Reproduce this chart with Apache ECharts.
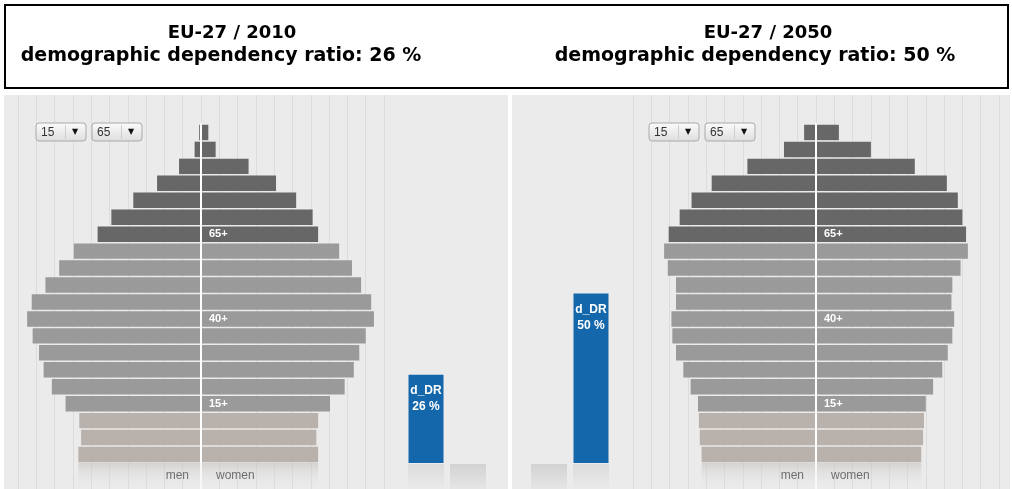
<!DOCTYPE html>
<html><head><meta charset="utf-8">
<script src="https://cdn.jsdelivr.net/npm/echarts@6/dist/echarts.min.js"></script>
<style>html,body{margin:0;padding:0;background:#fff}#c{width:1012px;height:489px}</style>
</head><body><div id="c"></div><script>
// ---- data ----
const region = 'EU-27';
const years = ['2010', '2050'];
const ageGroups = ['0-4','5-9','10-14','15-19','20-24','25-29','30-34','35-39','40-44','45-49',
  '50-54','55-59','60-64','65-69','70-74','75-79','80-84','85-89','90-94','95+'];
// population, millions
const men2010   = [13.4,13.1,13.3,14.8,16.3,17.2,17.7,18.4,19.0,18.5,17.0,15.5,13.9,11.3,9.8,7.4,4.8,2.4,0.7,0.2];
const women2010 = [12.8,12.6,12.8,14.1,15.7,16.7,17.3,18.0,18.9,18.6,17.5,16.5,15.1,12.8,12.2,10.4,8.2,5.2,1.6,0.8];
const men2050   = [12.5,12.7,12.8,12.9,13.7,14.5,15.3,15.7,15.8,15.3,15.3,16.2,16.6,16.1,14.9,13.6,11.4,7.5,3.5,1.3];
const women2050 = [11.5,11.7,11.8,12.0,12.8,13.8,14.4,14.9,15.1,14.8,14.9,15.8,16.6,16.4,16.0,15.5,14.3,10.8,6.0,2.5];
const dependencyRatio = [26, 50];
const ratioName = 'd_DR';
const markerLabels = {3:'15+', 8:'40+', 13:'65+'};
const selectorValues = ['15', '65'];
const sexLabels = ['men', 'women'];

// ---- layout / style ----
const menData = [men2010, men2050];
const womenData = [women2010, women2050];
const panels = [
  {bgX:4, bgW:504, pyrLeft:18, ratioLeft:405, ratioOrder:[ratioName, ' '], titleX1:227, titleX2:216, ddX:36},
  {bgX:512, bgW:498, pyrLeft:633, ratioLeft:528, ratioOrder:[' ', ratioName], titleX1:763, titleX2:750, ddX:649}
];
const PYR_W = 366, TOP = 124, H = 339;
function ageColor(i){ return i < 3 ? '#b8b1ac' : (i < 13 ? '#9a9a9a' : '#676767'); }
const fadeGrad = (a, b) => new echarts.graphic.LinearGradient(0,0,0,1,[{offset:0,color:a},{offset:1,color:b}]);

const grid = [], xAxis = [], yAxis = [], series = [], title = [], graphic = [];
const hidden = {show:false};

panels.forEach((p, k) => {
  const b = grid.length;
  // 0: background stripes
  grid.push({left:p.pyrLeft, top:95, width:PYR_W, height:394});
  xAxis.push({gridIndex:b, type:'value', min:-20, max:20, interval:2, axisLine:hidden, axisTick:hidden, axisLabel:hidden,
    splitLine:{show:true, lineStyle:{color:'#dcdcdc', width:1}}});
  yAxis.push({gridIndex:b, type:'value', min:0, max:1, show:false});
  // 1: pyramid
  grid.push({left:p.pyrLeft, top:TOP, width:PYR_W, height:H});
  xAxis.push({gridIndex:b+1, type:'value', min:-20, max:20, show:false});
  yAxis.push({gridIndex:b+1, type:'category', data:ageGroups, z:10,
    axisLine:{show:true, onZero:true, lineStyle:{color:'#ffffff', width:2}}, axisTick:hidden, axisLabel:hidden, splitLine:hidden});
  // 2: pyramid reflection
  grid.push({left:p.pyrLeft, top:TOP+H, width:PYR_W, height:26});
  xAxis.push({gridIndex:b+2, type:'value', min:-20, max:20, show:false});
  yAxis.push({gridIndex:b+2, type:'category', data:[ageGroups[0]], z:10,
    axisLine:{show:true, onZero:true, lineStyle:{color:'#f8f8f8', width:2}}, axisTick:hidden, axisLabel:hidden, splitLine:hidden});
  // 3: ratio bar
  grid.push({left:p.ratioLeft, top:TOP, width:84, height:H});
  xAxis.push({gridIndex:b+3, type:'category', data:p.ratioOrder, show:false});
  yAxis.push({gridIndex:b+3, type:'value', min:0, max:100, show:false});
  // 4: ratio reflection
  grid.push({left:p.ratioLeft, top:TOP+H+1, width:84, height:25});
  xAxis.push({gridIndex:b+4, type:'category', data:p.ratioOrder, show:false});
  yAxis.push({gridIndex:b+4, type:'value', inverse:true, min:0, max:8, show:false});

  const men = menData[k], women = womenData[k];
  series.push({type:'bar', name:sexLabels[0], xAxisIndex:b+1, yAxisIndex:b+1, barGap:'-100%', barCategoryGap:'9%',
    data: men.map((v,i)=>({value:-v, itemStyle:{color:ageColor(i)}})), silent:true});
  series.push({type:'bar', name:sexLabels[1], xAxisIndex:b+1, yAxisIndex:b+1, barGap:'-100%', barCategoryGap:'9%',
    data: women.map((v,i)=>({value:v, itemStyle:{color:ageColor(i)}})), silent:true,
    label:{show:true, position:'insideLeft', distance:8, color:'#ffffff', fontWeight:'bold', fontSize:11,
      fontFamily:'Liberation Sans, Arial, sans-serif', formatter: q => markerLabels[q.dataIndex] || ''}});
  const reflColor = fadeGrad('rgba(196,192,189,0.55)', 'rgba(235,235,235,0.05)');
  series.push({type:'bar', xAxisIndex:b+2, yAxisIndex:b+2, barGap:'-100%', barCategoryGap:'0%',
    data:[-men[0]], itemStyle:{color:reflColor}, silent:true});
  series.push({type:'bar', xAxisIndex:b+2, yAxisIndex:b+2, barGap:'-100%', barCategoryGap:'0%',
    data:[women[0]], itemStyle:{color:reflColor}, silent:true});

  const ratioData = p.ratioOrder.map(c => c === ratioName ? dependencyRatio[k] : '-');
  series.push({type:'bar', xAxisIndex:b+3, yAxisIndex:b+3, barWidth:35, data:ratioData,
    itemStyle:{color:'#1467ab'}, silent:true,
    label:{show:true, position:'insideTop', distance:8, color:'#ffffff', fontWeight:'bold', fontSize:12, lineHeight:16,
      fontFamily:'Liberation Sans, Arial, sans-serif', formatter: q => q.name + '\n' + q.value + ' %'}});
  series.push({type:'bar', xAxisIndex:b+4, yAxisIndex:b+4, barWidth:36, data:ratioData, silent:true,
    showBackground:true, backgroundStyle:{color: fadeGrad('#d2d2d2', '#e6e6e6')},
    itemStyle:{color: fadeGrad('#dcdcdc', '#eaeaea')}});

  // titles
  const tStyle = {fontFamily:'DejaVu Sans, sans-serif', fontWeight:'bold', fontSize:18, color:'#000'};
  title.push({text: region + ' / ' + years[k], left:p.titleX1, top:19, textAlign:'center', textStyle:tStyle});
  title.push({text: 'demographic dependency ratio: ' + dependencyRatio[k] + ' %', left:p.titleX2, top:42, textAlign:'center',
    textStyle:Object.assign({}, tStyle, {fontSize:19})});

  // panel background
  graphic.push({type:'rect', z:-100, shape:{x:p.bgX, y:95, width:p.bgW, height:394}, style:{fill:'#ebebeb'}});
  // sex labels
  const cx = p.pyrLeft + PYR_W/2;
  graphic.push({type:'text', z:50, x:cx-12, y:476, style:{text:sexLabels[0], align:'right', verticalAlign:'middle',
    fontSize:12, fontFamily:'Liberation Sans, Arial, sans-serif', fill:'#6e6e6e'}});
  graphic.push({type:'text', z:50, x:cx+15, y:476, style:{text:sexLabels[1], align:'left', verticalAlign:'middle',
    fontSize:12, fontFamily:'Liberation Sans, Arial, sans-serif', fill:'#6e6e6e'}});
  // dropdown selectors
  selectorValues.forEach((v, j) => {
    const x = p.ddX + j*56;
    graphic.push({type:'rect', z:50, shape:{x:x, y:123, width:50, height:18, r:3},
      style:{fill: fadeGrad('#fbfbfb', '#dedede'), stroke:'#a9a9a9', lineWidth:1}});
    graphic.push({type:'line', z:51, shape:{x1:x+29.5, y1:125, x2:x+29.5, y2:139}, style:{stroke:'#cfcfcf', lineWidth:1}});
    graphic.push({type:'text', z:52, x:x+5, y:132.5, style:{text:v, verticalAlign:'middle', fontSize:12,
      fontFamily:'Liberation Sans, Arial, sans-serif', fill:'#333'}});
    graphic.push({type:'text', z:52, x:x+39, y:132, style:{text:'\u25BC', align:'center', verticalAlign:'middle', fontSize:8,
      fontFamily:'DejaVu Sans, sans-serif', fill:'#111'}});
  });
});
// header box
graphic.push({type:'rect', z:-100, shape:{x:5, y:5, width:1003, height:83}, style:{fill:'#fff', stroke:'#000', lineWidth:2}});

const chart = echarts.init(document.getElementById('c'), null, {renderer:'canvas'});
chart.setOption({animation:false, backgroundColor:'#ffffff', title, grid, xAxis, yAxis, series, graphic});
</script></body></html>
